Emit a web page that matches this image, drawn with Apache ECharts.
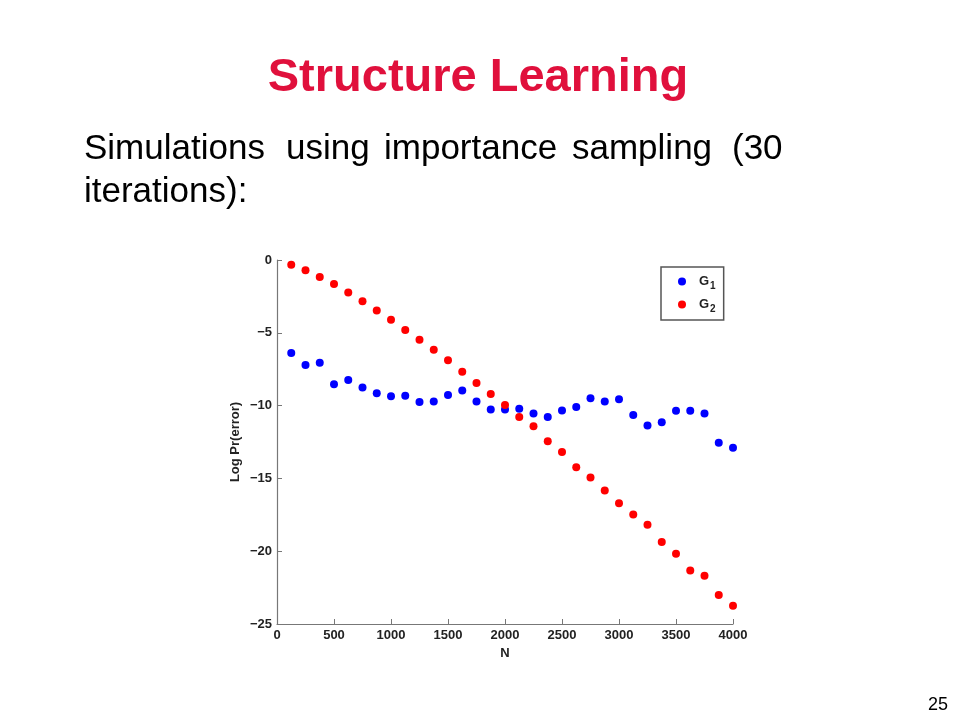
<!DOCTYPE html>
<html>
<head>
<meta charset="utf-8">
<script src="https://cdn.jsdelivr.net/npm/echarts@6/dist/echarts.min.js"></script>
<style>html,body{margin:0;padding:0;background:#fff;}#c{width:960px;height:720px;}</style>
</head>
<body>
<div id="c"></div>
<script>
const N = [125,250,375,500,625,750,875,1000,1125,1250,1375,1500,1625,1750,1875,2000,2125,2250,2375,2500,2625,2750,2875,3000,3125,3250,3375,3500,3625,3750,3875,4000];
const G1 = [-6.39,-7.22,-7.05,-8.54,-8.25,-8.75,-9.16,-9.35,-9.32,-9.76,-9.71,-9.28,-8.97,-9.71,-10.26,-10.26,-10.21,-10.54,-10.79,-10.33,-10.10,-9.50,-9.71,-9.57,-10.65,-11.36,-11.15,-10.35,-10.35,-10.54,-12.55,-12.90];
const G2 = [-0.32,-0.71,-1.17,-1.65,-2.24,-2.84,-3.46,-4.10,-4.81,-5.47,-6.16,-6.89,-7.67,-8.45,-9.20,-9.96,-10.79,-11.41,-12.44,-13.19,-14.23,-14.93,-15.83,-16.70,-17.48,-18.19,-19.36,-20.18,-21.33,-21.69,-23.00,-23.75];
const seriesNames = ['G1','G2'];
const titleText = 'Structure Learning';
const subtitleWords = ['Simulations','using','importance','sampling','(30'];
const subtitleLine2 = 'iterations):';
const pageNumber = '25';
const xName = 'N';
const yName = 'Log Pr(error)';

const chart = echarts.init(document.getElementById('c'));
const FONT = '"Liberation Sans", Arial, sans-serif';
const wordX = [84, 286, 384, 572, 732];
const graphics = [
  {type:'text', x:478, y:78, style:{text:titleText, font:'bold 47px ' + FONT, fill:'#E0103C', align:'center', verticalAlign:'middle'}},
  {type:'text', x:84, y:175, style:{text:subtitleLine2, font:'35px ' + FONT, fill:'#000', align:'left', verticalAlign:'top'}},
  {type:'text', x:948, y:696, style:{text:pageNumber, font:'18px ' + FONT, fill:'#000', align:'right', verticalAlign:'top'}}
];
subtitleWords.forEach((w,i)=>{
  graphics.push({type:'text', x:wordX[i], y:132, style:{text:w, font:'35px ' + FONT, fill:'#000', align:'left', verticalAlign:'top'}});
});
const minus = v => String(v).replace('-', '\u2212');
const axisLbl = {color:'#222', fontWeight:'bold', fontSize:13, fontFamily:FONT};
chart.setOption({
  animation:false,
  backgroundColor:'#fff',
  graphic: graphics,
  grid:{left:277, right:227, top:260, bottom:96, containLabel:false},
  xAxis:{type:'value', min:0, max:4000, interval:500, name:xName, nameLocation:'middle', nameGap:20,
    nameTextStyle:{color:'#222', fontWeight:'bold', fontSize:13, fontFamily:FONT},
    axisLine:{show:true, onZero:false, lineStyle:{color:'#777', width:1.2}},
    axisTick:{show:true, inside:true, length:5, lineStyle:{color:'#777'}},
    axisLabel:{...axisLbl, margin:5, formatter: v => String(v)},
    splitLine:{show:false}},
  yAxis:{type:'value', min:-25, max:0, interval:5, name:yName, nameLocation:'middle', nameGap:35, nameRotate:90,
    nameTextStyle:{color:'#222', fontWeight:'bold', fontSize:13, fontFamily:FONT},
    axisLine:{show:true, onZero:false, lineStyle:{color:'#777', width:1.2}},
    axisTick:{show:true, inside:true, length:5, lineStyle:{color:'#777'}},
    axisLabel:{...axisLbl, margin:5, formatter: minus},
    splitLine:{show:false}},
  legend:{orient:'vertical', left:661, top:267, itemWidth:8, itemHeight:8, itemGap:7,
    padding:[8,8,6,17], borderColor:'#555', borderWidth:1.5, icon:'circle',
    data: seriesNames,
    formatter: n => '{g|G}{s|' + n.slice(1) + '}',
    textStyle:{color:'#222', padding:[0,0,0,8], rich:{
      g:{fontSize:13, fontWeight:'bold', fontFamily:FONT, color:'#222'},
      s:{fontSize:10, fontWeight:'bold', fontFamily:FONT, color:'#222', padding:[9,0,0,1]}
    }}},
  series:[
    {name:seriesNames[0], type:'scatter', symbol:'circle', symbolSize:8, itemStyle:{color:'#0000FF', opacity:1}, data:N.map((x,i)=>[x,G1[i]])},
    {name:seriesNames[1], type:'scatter', symbol:'circle', symbolSize:8, itemStyle:{color:'#FF0000', opacity:1}, data:N.map((x,i)=>[x,G2[i]])}
  ]
});
</script>
</body>
</html>
